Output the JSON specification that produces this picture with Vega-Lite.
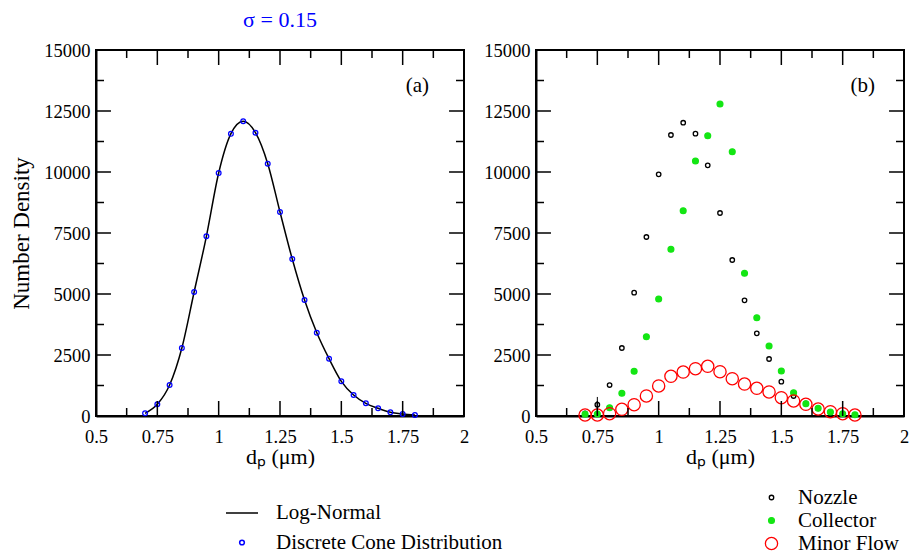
{
  "$schema": "https://vega.github.io/schema/vega-lite/v6.json",
  "padding": {"left": 9, "top": 8, "right": 5, "bottom": 5},
  "background": "white",
  "bounds": "flush",
  "config": {
    "font": "Liberation Serif",
    "view": {"stroke": "black", "strokeWidth": 2},
    "axis": {"labelFont": "Liberation Serif", "labelFontSize": 18.5, "labelColor": "black",
      "titleFont": "Liberation Serif", "titleFontWeight": "normal", "titleColor": "black",
      "domainColor": "black", "domainWidth": 2, "ticks": false, "grid": false, "tickCount": 100,
      "labelFlush": false, "labelOverlap": false, "labelBound": false},
    "legend": {"labelFont": "Liberation Serif", "labelFontSize": 21, "labelColor": "black", "labelLimit": 400}
  },
  "datasets": {
    "a": [
      {"dp": 0.70, "n": 111}, {"dp": 0.75, "n": 480}, {"dp": 0.80, "n": 1270}, {"dp": 0.85, "n": 2787},
      {"dp": 0.90, "n": 5082}, {"dp": 0.95, "n": 7365}, {"dp": 1.00, "n": 9959}, {"dp": 1.05, "n": 11570},
      {"dp": 1.10, "n": 12078}, {"dp": 1.15, "n": 11611}, {"dp": 1.20, "n": 10340}, {"dp": 1.25, "n": 8361},
      {"dp": 1.30, "n": 6434}, {"dp": 1.35, "n": 4754}, {"dp": 1.40, "n": 3414}, {"dp": 1.45, "n": 2348},
      {"dp": 1.50, "n": 1422}, {"dp": 1.55, "n": 861}, {"dp": 1.60, "n": 520}, {"dp": 1.65, "n": 316},
      {"dp": 1.70, "n": 152}, {"dp": 1.75, "n": 82}, {"dp": 1.80, "n": 41}
    ],
    "b": [
      {"dp": 0.70, "n": 111, "series": "Nozzle"}, {"dp": 0.75, "n": 463, "series": "Nozzle"},
      {"dp": 0.80, "n": 1270, "series": "Nozzle"}, {"dp": 0.85, "n": 2787, "series": "Nozzle"},
      {"dp": 0.90, "n": 5053, "series": "Nozzle"}, {"dp": 0.95, "n": 7336, "series": "Nozzle"},
      {"dp": 1.00, "n": 9906, "series": "Nozzle"}, {"dp": 1.05, "n": 11516, "series": "Nozzle"},
      {"dp": 1.10, "n": 12020, "series": "Nozzle"}, {"dp": 1.15, "n": 11570, "series": "Nozzle"},
      {"dp": 1.20, "n": 10275, "series": "Nozzle"}, {"dp": 1.25, "n": 8320, "series": "Nozzle"},
      {"dp": 1.30, "n": 6393, "series": "Nozzle"}, {"dp": 1.35, "n": 4742, "series": "Nozzle"},
      {"dp": 1.40, "n": 3389, "series": "Nozzle"}, {"dp": 1.45, "n": 2336, "series": "Nozzle"},
      {"dp": 1.50, "n": 1406, "series": "Nozzle"}, {"dp": 1.55, "n": 820, "series": "Nozzle"},
      {"dp": 1.60, "n": 520, "series": "Nozzle"}, {"dp": 1.65, "n": 316, "series": "Nozzle"},
      {"dp": 1.70, "n": 152, "series": "Nozzle"}, {"dp": 1.75, "n": 82, "series": "Nozzle"},
      {"dp": 1.80, "n": 41, "series": "Nozzle"},
      {"dp": 0.70, "n": 70, "series": "Collector"}, {"dp": 0.75, "n": 82, "series": "Collector"},
      {"dp": 0.80, "n": 340, "series": "Collector"}, {"dp": 0.85, "n": 930, "series": "Collector"},
      {"dp": 0.90, "n": 1832, "series": "Collector"}, {"dp": 0.95, "n": 3250, "series": "Collector"},
      {"dp": 1.00, "n": 4795, "series": "Collector"}, {"dp": 1.05, "n": 6832, "series": "Collector"},
      {"dp": 1.10, "n": 8414, "series": "Collector"}, {"dp": 1.15, "n": 10451, "series": "Collector"},
      {"dp": 1.20, "n": 11488, "series": "Collector"}, {"dp": 1.25, "n": 12787, "series": "Collector"},
      {"dp": 1.30, "n": 10832, "series": "Collector"}, {"dp": 1.35, "n": 5848, "series": "Collector"},
      {"dp": 1.40, "n": 4029, "series": "Collector"}, {"dp": 1.45, "n": 2869, "series": "Collector"},
      {"dp": 1.50, "n": 1844, "series": "Collector"}, {"dp": 1.55, "n": 955, "series": "Collector"},
      {"dp": 1.60, "n": 504, "series": "Collector"}, {"dp": 1.65, "n": 316, "series": "Collector"},
      {"dp": 1.70, "n": 164, "series": "Collector"}, {"dp": 1.75, "n": 94, "series": "Collector"},
      {"dp": 1.80, "n": 53, "series": "Collector"},
      {"dp": 0.70, "n": 41, "series": "Minor Flow"}, {"dp": 0.75, "n": 41, "series": "Minor Flow"},
      {"dp": 0.80, "n": 94, "series": "Minor Flow"}, {"dp": 0.85, "n": 275, "series": "Minor Flow"},
      {"dp": 0.90, "n": 463, "series": "Minor Flow"}, {"dp": 0.95, "n": 820, "series": "Minor Flow"},
      {"dp": 1.00, "n": 1230, "series": "Minor Flow"}, {"dp": 1.05, "n": 1627, "series": "Minor Flow"},
      {"dp": 1.10, "n": 1803, "series": "Minor Flow"}, {"dp": 1.15, "n": 1939, "series": "Minor Flow"},
      {"dp": 1.20, "n": 2037, "series": "Minor Flow"}, {"dp": 1.25, "n": 1816, "series": "Minor Flow"},
      {"dp": 1.30, "n": 1529, "series": "Minor Flow"}, {"dp": 1.35, "n": 1311, "series": "Minor Flow"},
      {"dp": 1.40, "n": 1135, "series": "Minor Flow"}, {"dp": 1.45, "n": 984, "series": "Minor Flow"},
      {"dp": 1.50, "n": 750, "series": "Minor Flow"}, {"dp": 1.55, "n": 615, "series": "Minor Flow"},
      {"dp": 1.60, "n": 479, "series": "Minor Flow"}, {"dp": 1.65, "n": 287, "series": "Minor Flow"},
      {"dp": 1.70, "n": 176, "series": "Minor Flow"}, {"dp": 1.75, "n": 94, "series": "Minor Flow"},
      {"dp": 1.80, "n": 41, "series": "Minor Flow"}
    ],
    "errbar": [{"dp": 0.75, "lo": 80, "hi": 780}],
    "xmaj": [{"v": 0.75}, {"v": 1}, {"v": 1.25}, {"v": 1.5}, {"v": 1.75}],
    "xmin": [{"v": 0.625}, {"v": 0.875}, {"v": 1.125}, {"v": 1.375}, {"v": 1.625}, {"v": 1.875}],
    "ymaj": [{"v": 2500}, {"v": 5000}, {"v": 7500}, {"v": 10000}, {"v": 12500}],
    "ymin": [{"v": 1250}, {"v": 3750}, {"v": 6250}, {"v": 8750}, {"v": 11250}, {"v": 13750}]
  },
  "spacing": 72,
  "resolve": {
    "scale": {"x": "independent", "y": "independent", "color": "independent", "shape": "independent", "size": "independent", "fill": "independent", "stroke": "independent"},
    "legend": {"color": "independent", "shape": "independent", "size": "independent", "fill": "independent", "stroke": "independent"}
  },
  "hconcat": [
    {
      "width": 368,
      "height": 366,
      "title": {"text": "σ = 0.15", "color": "#0000ff", "font": "Liberation Serif", "fontSize": 22, "fontWeight": "normal", "offset": 9},
      "layer": [
        {
          "data": {"name": "a"},
          "mark": {"type": "line", "color": "black", "strokeWidth": 1.5, "interpolate": "monotone"},
          "encoding": {
            "x": {"field": "dp", "type": "quantitative", "title": "dₚ (μm)", "scale": {"domain": [0.5, 2], "nice": false, "zero": false},
              "axis": {"orient": "bottom", "values": [0.5, 0.75, 1, 1.25, 1.5, 1.75, 2], "format": ".2~f",
                "labelPadding": 11, "title": "dₚ (μm)", "titleFontSize": 22, "titlePadding": 1}},
            "y": {"field": "n", "type": "quantitative", "title": "Number Density", "scale": {"domain": [0, 15000], "nice": false},
              "axis": {"orient": "left", "values": [0, 2500, 5000, 7500, 10000, 12500, 15000], "format": "d",
                "labelPadding": 6, "title": "Number Density", "titleFontSize": 23, "titlePadding": 10}},
            "color": {"datum": "Log-Normal", "scale": {"domain": ["Log-Normal", "Discrete Cone Distribution"], "range": ["black", "#0000ff"]},
              "legend": {"orient": "none", "legendX": 129, "legendY": 446, "title": null, "labelOffset": 17, "rowPadding": 8, "symbolStrokeWidth": 1.5}}
          }
        },
        {
          "data": {"name": "a"},
          "mark": {"type": "point", "filled": false, "strokeWidth": 1.3, "opacity": 1},
          "encoding": {
            "x": {"field": "dp", "type": "quantitative", "title": "dₚ (μm)"},
            "y": {"field": "n", "type": "quantitative", "title": "Number Density"},
            "color": {"datum": "Discrete Cone Distribution", "scale": {"domain": ["Log-Normal", "Discrete Cone Distribution"], "range": ["black", "#0000ff"]},
              "legend": {"orient": "none", "legendX": 129, "legendY": 446, "title": null, "labelOffset": 17, "rowPadding": 8, "symbolStrokeWidth": 1.5}},
            "shape": {"datum": "Discrete Cone Distribution", "scale": {"domain": ["Log-Normal", "Discrete Cone Distribution"], "range": ["stroke", "circle"]},
              "legend": {"orient": "none", "legendX": 129, "legendY": 446, "title": null, "labelOffset": 17, "rowPadding": 8, "symbolStrokeWidth": 1.5}},
            "size": {"datum": "Discrete Cone Distribution", "scale": {"domain": ["Log-Normal", "Discrete Cone Distribution"], "range": [1024, 22]},
              "legend": {"orient": "none", "legendX": 129, "legendY": 446, "title": null, "labelOffset": 17, "rowPadding": 8, "symbolStrokeWidth": 1.5}}
          }
        },
        {
          "data": {"values": [{"label": "(a)"}]},
          "mark": {"type": "text", "font": "Liberation Serif", "fontSize": 21, "color": "black"},
          "encoding": {
            "x": {"datum": 1.81, "type": "quantitative"},
            "y": {"datum": 13525, "type": "quantitative"},
            "text": {"field": "label"}
          }
        },
        {"data": {"name": "xmaj"}, "mark": {"type": "rule", "color": "black", "strokeWidth": 1.5},
          "encoding": {"x": {"field": "v", "type": "quantitative", "title": "dₚ (μm)"}, "y": {"datum": 0, "type": "quantitative"}, "y2": {"datum": 615}}},
        {"data": {"name": "xmaj"}, "mark": {"type": "rule", "color": "black", "strokeWidth": 1.5},
          "encoding": {"x": {"field": "v", "type": "quantitative", "title": "dₚ (μm)"}, "y": {"datum": 14385, "type": "quantitative"}, "y2": {"datum": 15000}}},
        {"data": {"name": "xmin"}, "mark": {"type": "rule", "color": "black", "strokeWidth": 1.5},
          "encoding": {"x": {"field": "v", "type": "quantitative", "title": "dₚ (μm)"}, "y": {"datum": 0, "type": "quantitative"}, "y2": {"datum": 328}}},
        {"data": {"name": "xmin"}, "mark": {"type": "rule", "color": "black", "strokeWidth": 1.5},
          "encoding": {"x": {"field": "v", "type": "quantitative", "title": "dₚ (μm)"}, "y": {"datum": 14672, "type": "quantitative"}, "y2": {"datum": 15000}}},
        {"data": {"name": "ymaj"}, "mark": {"type": "rule", "color": "black", "strokeWidth": 1.5},
          "encoding": {"y": {"field": "v", "type": "quantitative", "title": "Number Density"}, "x": {"datum": 0.5, "type": "quantitative"}, "x2": {"datum": 0.561}}},
        {"data": {"name": "ymaj"}, "mark": {"type": "rule", "color": "black", "strokeWidth": 1.5},
          "encoding": {"y": {"field": "v", "type": "quantitative", "title": "Number Density"}, "x": {"datum": 1.939, "type": "quantitative"}, "x2": {"datum": 2}}},
        {"data": {"name": "ymin"}, "mark": {"type": "rule", "color": "black", "strokeWidth": 1.5},
          "encoding": {"y": {"field": "v", "type": "quantitative", "title": "Number Density"}, "x": {"datum": 0.5, "type": "quantitative"}, "x2": {"datum": 0.5326}}},
        {"data": {"name": "ymin"}, "mark": {"type": "rule", "color": "black", "strokeWidth": 1.5},
          "encoding": {"y": {"field": "v", "type": "quantitative", "title": "Number Density"}, "x": {"datum": 1.9674, "type": "quantitative"}, "x2": {"datum": 2}}}
      ]
    },
    {
      "width": 368,
      "height": 366,
      "layer": [
        {
          "data": {"name": "b"},
          "mark": {"type": "point", "strokeWidth": 1.3, "opacity": 1},
          "encoding": {
            "x": {"field": "dp", "type": "quantitative", "title": "dₚ (μm)", "scale": {"domain": [0.5, 2], "nice": false, "zero": false},
              "axis": {"orient": "bottom", "values": [0.5, 0.75, 1, 1.25, 1.5, 1.75, 2], "format": ".2~f",
                "labelPadding": 11, "title": "dₚ (μm)", "titleFontSize": 22, "titlePadding": 1}},
            "y": {"field": "n", "type": "quantitative", "title": null, "scale": {"domain": [0, 15000], "nice": false},
              "axis": {"orient": "left", "values": [0, 2500, 5000, 7500, 10000, 12500, 15000], "format": "d",
                "labelPadding": 6, "title": null}},
            "stroke": {"field": "series", "type": "nominal", "scale": {"domain": ["Nozzle", "Collector", "Minor Flow"], "range": ["black", "#14e614", "#ff0000"]},
              "legend": {"orient": "none", "legendX": 225, "legendY": 437, "title": null, "labelOffset": 16, "rowPadding": 1, "symbolStrokeWidth": 1.3}},
            "fill": {"field": "series", "type": "nominal", "scale": {"domain": ["Nozzle", "Collector", "Minor Flow"], "range": ["transparent", "#14e614", "transparent"]},
              "legend": {"orient": "none", "legendX": 225, "legendY": 437, "title": null, "labelOffset": 16, "rowPadding": 1, "symbolStrokeWidth": 1.3}},
            "size": {"field": "series", "type": "nominal", "scale": {"type": "ordinal", "domain": ["Nozzle", "Collector", "Minor Flow"], "range": [20, 34, 150]},
              "legend": {"orient": "none", "legendX": 225, "legendY": 437, "title": null, "labelOffset": 16, "rowPadding": 1, "symbolStrokeWidth": 1.3}}
          }
        },
        {
          "data": {"name": "errbar"},
          "mark": {"type": "rule", "color": "black", "strokeWidth": 1},
          "encoding": {
            "x": {"field": "dp", "type": "quantitative", "title": "dₚ (μm)"},
            "y": {"field": "lo", "type": "quantitative", "title": null},
            "y2": {"field": "hi"}
          }
        },
        {
          "data": {"values": [{"label": "(b)"}]},
          "mark": {"type": "text", "font": "Liberation Serif", "fontSize": 21, "color": "black"},
          "encoding": {
            "x": {"datum": 1.832, "type": "quantitative"},
            "y": {"datum": 13525, "type": "quantitative"},
            "text": {"field": "label"}
          }
        },
        {"data": {"name": "xmaj"}, "mark": {"type": "rule", "color": "black", "strokeWidth": 1.5},
          "encoding": {"x": {"field": "v", "type": "quantitative", "title": "dₚ (μm)"}, "y": {"datum": 0, "type": "quantitative"}, "y2": {"datum": 615}}},
        {"data": {"name": "xmaj"}, "mark": {"type": "rule", "color": "black", "strokeWidth": 1.5},
          "encoding": {"x": {"field": "v", "type": "quantitative", "title": "dₚ (μm)"}, "y": {"datum": 14385, "type": "quantitative"}, "y2": {"datum": 15000}}},
        {"data": {"name": "xmin"}, "mark": {"type": "rule", "color": "black", "strokeWidth": 1.5},
          "encoding": {"x": {"field": "v", "type": "quantitative", "title": "dₚ (μm)"}, "y": {"datum": 0, "type": "quantitative"}, "y2": {"datum": 328}}},
        {"data": {"name": "xmin"}, "mark": {"type": "rule", "color": "black", "strokeWidth": 1.5},
          "encoding": {"x": {"field": "v", "type": "quantitative", "title": "dₚ (μm)"}, "y": {"datum": 14672, "type": "quantitative"}, "y2": {"datum": 15000}}},
        {"data": {"name": "ymaj"}, "mark": {"type": "rule", "color": "black", "strokeWidth": 1.5},
          "encoding": {"y": {"field": "v", "type": "quantitative", "title": null}, "x": {"datum": 0.5, "type": "quantitative"}, "x2": {"datum": 0.561}}},
        {"data": {"name": "ymaj"}, "mark": {"type": "rule", "color": "black", "strokeWidth": 1.5},
          "encoding": {"y": {"field": "v", "type": "quantitative", "title": null}, "x": {"datum": 1.939, "type": "quantitative"}, "x2": {"datum": 2}}},
        {"data": {"name": "ymin"}, "mark": {"type": "rule", "color": "black", "strokeWidth": 1.5},
          "encoding": {"y": {"field": "v", "type": "quantitative", "title": null}, "x": {"datum": 0.5, "type": "quantitative"}, "x2": {"datum": 0.5326}}},
        {"data": {"name": "ymin"}, "mark": {"type": "rule", "color": "black", "strokeWidth": 1.5},
          "encoding": {"y": {"field": "v", "type": "quantitative", "title": null}, "x": {"datum": 1.9674, "type": "quantitative"}, "x2": {"datum": 2}}}
      ]
    }
  ]
}
